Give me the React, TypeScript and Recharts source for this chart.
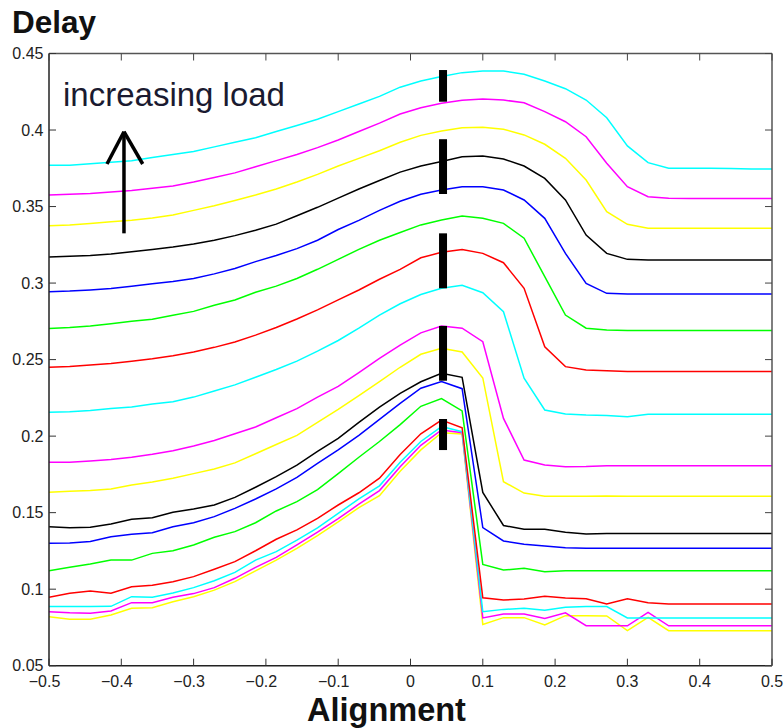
import React from "react";
import { LineChart, Line, XAxis, YAxis, ReferenceLine } from "recharts";

// x positions of the samples (36 points from -0.5 to 0.5)
const xs = [
  -0.5, -0.4714, -0.4429, -0.4143, -0.3857, -0.3571, -0.3286, -0.3, -0.2714, -0.2429, -0.2143, -0.1857,
  -0.1571, -0.1286, -0.1, -0.0714, -0.0429, -0.0143, 0.0143, 0.0429, 0.0714, 0.1, 0.1286, 0.1571,
  0.1857, 0.2143, 0.2429, 0.2714, 0.3, 0.3286, 0.3571, 0.3857, 0.4143, 0.4429, 0.4714, 0.5,
];

// series, lowest load first
const s01Yellow = [0.082, 0.0803, 0.0803, 0.0831, 0.0875, 0.0879, 0.0918, 0.0951, 0.0994, 0.1049, 0.112, 0.119, 0.1267, 0.135, 0.1439, 0.1533, 0.1611, 0.177, 0.191, 0.2022, 0.2014, 0.077, 0.0814, 0.0814, 0.0766, 0.0827, 0.0827, 0.0825, 0.0729, 0.0816, 0.0729, 0.0729, 0.0729, 0.0729, 0.0729, 0.0729];
const s02Magenta = [0.0853, 0.0846, 0.0842, 0.0857, 0.0912, 0.0912, 0.0947, 0.0971, 0.101, 0.1071, 0.1142, 0.1208, 0.1289, 0.1372, 0.1461, 0.1555, 0.1644, 0.18, 0.194, 0.204, 0.2022, 0.0812, 0.0838, 0.0838, 0.0808, 0.0846, 0.0761, 0.0761, 0.0761, 0.0849, 0.0761, 0.0761, 0.0761, 0.0761, 0.0761, 0.0761];
const s03Cyan = [0.0886, 0.0886, 0.0886, 0.0888, 0.0951, 0.0947, 0.0975, 0.101, 0.1055, 0.111, 0.119, 0.1245, 0.132, 0.14, 0.1495, 0.159, 0.1675, 0.183, 0.1965, 0.2062, 0.2029, 0.0853, 0.0868, 0.0875, 0.0862, 0.0882, 0.0886, 0.0886, 0.0812, 0.0812, 0.0812, 0.0812, 0.0812, 0.0812, 0.0812, 0.0812];
const s04Red = [0.0947, 0.0973, 0.0988, 0.0973, 0.1016, 0.1025, 0.1049, 0.1082, 0.113, 0.118, 0.1251, 0.1326, 0.1387, 0.1463, 0.155, 0.163, 0.1725, 0.188, 0.2015, 0.2105, 0.2055, 0.0944, 0.0929, 0.0936, 0.0954, 0.0942, 0.0938, 0.0903, 0.0938, 0.0912, 0.0903, 0.0903, 0.0903, 0.0903, 0.0903, 0.0903];
const s05Green = [0.1121, 0.1143, 0.1164, 0.119, 0.119, 0.1234, 0.1251, 0.1289, 0.1339, 0.1376, 0.1434, 0.1511, 0.1572, 0.165, 0.1755, 0.1862, 0.1965, 0.2075, 0.2195, 0.2245, 0.2165, 0.1162, 0.1125, 0.1136, 0.1114, 0.1121, 0.1121, 0.1121, 0.1121, 0.1121, 0.1121, 0.1121, 0.1121, 0.1121, 0.1121, 0.1121];
const s06Blue = [0.13, 0.1302, 0.1311, 0.1343, 0.1359, 0.1369, 0.1408, 0.1434, 0.1474, 0.1528, 0.1589, 0.1655, 0.173, 0.1822, 0.191, 0.2005, 0.211, 0.2214, 0.2313, 0.2356, 0.231, 0.1402, 0.1315, 0.1293, 0.1282, 0.1271, 0.1267, 0.1267, 0.1267, 0.1267, 0.1267, 0.1267, 0.1267, 0.1267, 0.1267, 0.1267];
const s07Black = [0.1408, 0.1402, 0.1405, 0.1426, 0.1457, 0.1467, 0.1502, 0.1524, 0.155, 0.16, 0.1666, 0.1735, 0.181, 0.19, 0.1985, 0.209, 0.219, 0.228, 0.2355, 0.2411, 0.2384, 0.1632, 0.1416, 0.1391, 0.1391, 0.1372, 0.136, 0.1363, 0.1363, 0.1363, 0.1363, 0.1363, 0.1363, 0.1363, 0.1363, 0.1363];
const s08Yellow = [0.1633, 0.164, 0.1645, 0.1655, 0.168, 0.17, 0.1725, 0.1755, 0.1785, 0.1825, 0.1885, 0.1945, 0.2005, 0.209, 0.2175, 0.2265, 0.2356, 0.245, 0.2535, 0.2574, 0.255, 0.238, 0.1702, 0.1628, 0.1607, 0.1607, 0.1607, 0.1609, 0.1607, 0.1607, 0.1607, 0.1607, 0.1607, 0.1607, 0.1607, 0.1607];
const s09Magenta = [0.1829, 0.183, 0.1838, 0.1848, 0.1862, 0.1882, 0.1905, 0.1935, 0.1972, 0.2015, 0.206, 0.212, 0.218, 0.2255, 0.2325, 0.2415, 0.2508, 0.2595, 0.2675, 0.2719, 0.2705, 0.2617, 0.2116, 0.1844, 0.1811, 0.18, 0.1802, 0.1807, 0.1807, 0.1807, 0.1807, 0.1807, 0.1807, 0.1807, 0.1807, 0.1807];
const s10Cyan = [0.2156, 0.216, 0.2167, 0.218, 0.219, 0.221, 0.2225, 0.2255, 0.2295, 0.2335, 0.2385, 0.2435, 0.249, 0.2555, 0.2625, 0.2705, 0.279, 0.2865, 0.2925, 0.2966, 0.2985, 0.2937, 0.2813, 0.2378, 0.2171, 0.2145, 0.2138, 0.2135, 0.2127, 0.2143, 0.2143, 0.2143, 0.2143, 0.2143, 0.2143, 0.2143];
const s11Red = [0.245, 0.2455, 0.2465, 0.2475, 0.249, 0.2505, 0.2525, 0.255, 0.258, 0.2615, 0.266, 0.271, 0.2765, 0.2825, 0.289, 0.2955, 0.3025, 0.309, 0.3165, 0.3201, 0.322, 0.3194, 0.3133, 0.2966, 0.2584, 0.2454, 0.2432, 0.2427, 0.2423, 0.2423, 0.2423, 0.2423, 0.2423, 0.2423, 0.2423, 0.2423];
const s12Green = [0.2704, 0.271, 0.272, 0.2735, 0.275, 0.2763, 0.279, 0.2815, 0.2855, 0.289, 0.294, 0.298, 0.303, 0.309, 0.3155, 0.322, 0.328, 0.333, 0.338, 0.3412, 0.3438, 0.3423, 0.339, 0.3293, 0.3042, 0.2791, 0.2705, 0.2693, 0.269, 0.269, 0.269, 0.269, 0.269, 0.269, 0.269, 0.269];
const s13Blue = [0.2944, 0.2948, 0.2955, 0.2965, 0.298, 0.2995, 0.301, 0.303, 0.306, 0.3095, 0.314, 0.318, 0.3225, 0.328, 0.335, 0.341, 0.3475, 0.3535, 0.358, 0.3608, 0.363, 0.363, 0.3608, 0.3543, 0.3423, 0.3194, 0.2998, 0.2933, 0.2929, 0.2928, 0.2928, 0.2928, 0.2928, 0.2928, 0.2928, 0.2928];
const s14Black = [0.317, 0.3175, 0.318, 0.319, 0.3205, 0.322, 0.3235, 0.3255, 0.328, 0.331, 0.3345, 0.3385, 0.344, 0.3495, 0.3555, 0.3615, 0.367, 0.3725, 0.3765, 0.3795, 0.3826, 0.383, 0.3811, 0.3765, 0.3684, 0.3543, 0.3314, 0.3194, 0.3155, 0.3151, 0.315, 0.315, 0.315, 0.315, 0.315, 0.315];
const s15Yellow = [0.3375, 0.338, 0.339, 0.34, 0.341, 0.3425, 0.3445, 0.3475, 0.3505, 0.354, 0.3575, 0.3615, 0.366, 0.371, 0.3765, 0.3815, 0.3865, 0.392, 0.3965, 0.3994, 0.4015, 0.4018, 0.4005, 0.3968, 0.3907, 0.3815, 0.3673, 0.3466, 0.3384, 0.3358, 0.3358, 0.3358, 0.3358, 0.3358, 0.3358, 0.3358];
const s16Magenta = [0.3575, 0.358, 0.3585, 0.3595, 0.3605, 0.362, 0.3635, 0.366, 0.369, 0.372, 0.376, 0.38, 0.384, 0.3885, 0.3935, 0.399, 0.4045, 0.4105, 0.4145, 0.4175, 0.4195, 0.4203, 0.4196, 0.4178, 0.412, 0.4054, 0.3956, 0.3783, 0.363, 0.3564, 0.3554, 0.3553, 0.3553, 0.3552, 0.3552, 0.3552];
const s17Cyan = [0.377, 0.377, 0.378, 0.379, 0.38, 0.382, 0.384, 0.386, 0.389, 0.392, 0.395, 0.399, 0.403, 0.407, 0.412, 0.417, 0.422, 0.428, 0.432, 0.435, 0.4375, 0.4386, 0.4386, 0.4364, 0.432, 0.427, 0.4196, 0.408, 0.3896, 0.3787, 0.375, 0.375, 0.375, 0.3748, 0.3746, 0.3746];

const seriesList = [
  s01Yellow, s02Magenta, s03Cyan, s04Red, s05Green, s06Blue, s07Black,
  s08Yellow, s09Magenta, s10Cyan, s11Red, s12Green, s13Blue, s14Black,
  s15Yellow, s16Magenta, s17Cyan,
];
const seriesColors = [
  "#ffff00", "#ff00ff", "#00ffff", "#ff0000", "#00ff00", "#0000ff", "#000000",
  "#ffff00", "#ff00ff", "#00ffff", "#ff0000", "#00ff00", "#0000ff", "#000000",
  "#ffff00", "#ff00ff", "#00ffff",
];

// thick black markers at the peak position
const markerX = 0.045;
const markerLow = [0.4185, 0.3582, 0.2966, 0.2362, 0.1909];
const markerHigh = [0.4392, 0.394, 0.3325, 0.272, 0.2112];

// arrow annotation (data units)
const arrowX = -0.3963;
const arrowBottom = 0.3325;
const arrowTop = 0.3989;
const arrowHeadLeftX = -0.4198;
const arrowHeadRightX = -0.3704;
const arrowHeadY = 0.3778;

const xTicks = [-0.5, -0.4, -0.3, -0.2, -0.1, 0, 0.1, 0.2, 0.3, 0.4, 0.5];
const xTickLabels = ["\u22120.5", "\u22120.4", "\u22120.3", "\u22120.2", "\u22120.1", "0", "0.1", "0.2", "0.3", "0.4", "0.5"];
const yTicks = [0.05, 0.1, 0.15, 0.2, 0.25, 0.3, 0.35, 0.4, 0.45];
const yTickLabels = ["0.05", "0.1", "0.15", "0.2", "0.25", "0.3", "0.35", "0.4", "0.45"];

const data = xs.map((x, i) => {
  const row: Record<string, number> = { x };
  seriesList.forEach((s, j) => {
    row["s" + j] = s[i];
  });
  return row;
});

const FONT = "'Liberation Sans', Arial, Helvetica, sans-serif";
const TICK_LEN = 7;

const findIdx = (arr: number[], v: number) => arr.findIndex((t) => Math.abs(t - v) < 1e-9);

const LeftTick = (p: any) => {
  const ax = p.x + 8;
  const i = findIdx(yTicks, p.payload.value);
  return (
    <g>
      <line x1={ax} x2={ax + TICK_LEN} y1={p.y} y2={p.y} stroke="#333" strokeWidth={1} />
      <text x={ax - 5.5} y={p.y} dy="0.36em" textAnchor="end" fontSize={16} fill="#222" fontFamily={FONT}>
        {yTickLabels[i]}
      </text>
    </g>
  );
};

const BottomTick = (p: any) => {
  const ay = p.y - 8;
  const i = findIdx(xTicks, p.payload.value);
  const neg = p.payload.value < 0;
  return (
    <g>
      <line x1={p.x} x2={p.x} y1={ay} y2={ay - TICK_LEN} stroke="#333" strokeWidth={1} />
      <text x={p.x + (neg ? -4.5 : 0)} y={ay + 9.5} dy="0.71em" textAnchor="middle" fontSize={16} fill="#222" fontFamily={FONT}>
        {xTickLabels[i]}
      </text>
    </g>
  );
};

const TopTick = (p: any) => {
  const ay = p.y + 8;
  return <line x1={p.x} x2={p.x} y1={ay} y2={ay + TICK_LEN} stroke="#444" strokeWidth={1} />;
};

const RightTick = (p: any) => {
  const ax = p.x - 8;
  return <line x1={ax} x2={ax - TICK_LEN} y1={p.y} y2={p.y} stroke="#444" strokeWidth={1} />;
};

export default function App() {
  return (
    <div style={{ position: "relative", width: 784, height: 728, background: "#fff", overflow: "hidden" }}>
      <style>{"html,body{margin:0;padding:0;overflow:hidden;background:#fff}"}</style>
      <LineChart
        width={784}
        height={728}
        data={data}
        margin={{ top: 52.5, right: 11, bottom: 32.3, left: 0 }}
      >
        <XAxis
          xAxisId="b"
          dataKey="x"
          type="number"
          domain={[-0.5, 0.5]}
          ticks={xTicks}
          interval={0}
          height={30}
          tickSize={6}
          tickMargin={2}
          tickLine={false}
          tick={<BottomTick />}
          axisLine={{ stroke: "#222", strokeWidth: 1.5 }}
          allowDataOverflow
        />
        <XAxis
          xAxisId="t"
          dataKey="x"
          type="number"
          orientation="top"
          domain={[-0.5, 0.5]}
          ticks={xTicks}
          interval={0}
          height={1}
          tickSize={6}
          tickMargin={2}
          tickLine={false}
          tick={<TopTick />}
          axisLine={{ stroke: "#555", strokeWidth: 1.5 }}
          allowDataOverflow
        />
        <YAxis
          yAxisId="l"
          type="number"
          domain={[0.05, 0.45]}
          ticks={yTicks}
          interval={0}
          width={49}
          tickSize={6}
          tickMargin={2}
          tickLine={false}
          tick={<LeftTick />}
          axisLine={{ stroke: "#222", strokeWidth: 1.5 }}
          allowDataOverflow
        />
        <YAxis
          yAxisId="r"
          orientation="right"
          type="number"
          domain={[0.05, 0.45]}
          ticks={yTicks}
          interval={0}
          width={1}
          tickSize={6}
          tickMargin={2}
          tickLine={false}
          tick={<RightTick />}
          axisLine={{ stroke: "#555", strokeWidth: 1.5 }}
          allowDataOverflow
        />
        {seriesList.map((_, j) => (
          <Line
            key={j}
            xAxisId="b"
            yAxisId="l"
            type="linear"
            dataKey={"s" + j}
            stroke={seriesColors[j]}
            strokeWidth={1.5}
            dot={false}
            activeDot={false}
            isAnimationActive={false}
          />
        ))}
        {markerLow.map((lo, i) => (
          <ReferenceLine
            key={"m" + i}
            xAxisId="b"
            yAxisId="l"
            segment={[{ x: markerX, y: lo }, { x: markerX, y: markerHigh[i] }]}
            stroke="#000"
            strokeWidth={8}
            ifOverflow="visible"
          />
        ))}
        <ReferenceLine
          xAxisId="b"
          yAxisId="l"
          segment={[{ x: arrowX, y: arrowBottom }, { x: arrowX, y: arrowTop }]}
          stroke="#000"
          strokeWidth={3.5}
          ifOverflow="visible"
        />
        <ReferenceLine
          xAxisId="b"
          yAxisId="l"
          segment={[{ x: arrowHeadLeftX, y: arrowHeadY }, { x: arrowX, y: arrowTop }]}
          stroke="#000"
          strokeWidth={3.5}
          ifOverflow="visible"
        />
        <ReferenceLine
          xAxisId="b"
          yAxisId="l"
          segment={[{ x: arrowHeadRightX, y: arrowHeadY }, { x: arrowX, y: arrowTop }]}
          stroke="#000"
          strokeWidth={3.5}
          ifOverflow="visible"
        />
      </LineChart>
      <svg
        width={784}
        height={728}
        style={{ position: "absolute", left: 0, top: 0, pointerEvents: "none" }}
      >
        <text x={12} y={33} fontSize={31.5} fontWeight="bold" fill="#111" fontFamily={FONT}>
          Delay
        </text>
        <text x={63} y={106} fontSize={33} fill="#1a1a30" fontFamily={FONT}>
          increasing load
        </text>
        <text x={386.5} y={721} fontSize={32.5} fontWeight="bold" fill="#111" textAnchor="middle" fontFamily={FONT}>
          Alignment
        </text>
      </svg>
    </div>
  );
}
